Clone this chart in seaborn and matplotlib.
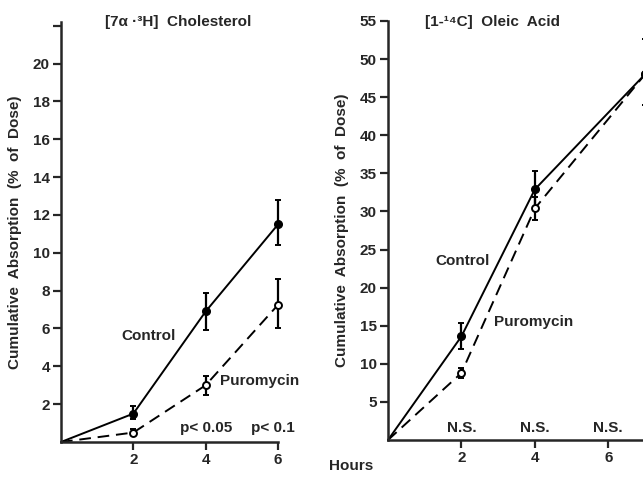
import matplotlib
matplotlib.use("Agg")
import matplotlib.pyplot as plt
import seaborn as sns
import numpy as np
import pandas as pd

# ---- data ----
hours_chol = [0, 2, 4, 6]
chol_control = [0, 1.5, 6.9, 11.5]
chol_control_lo = [0, 1.2, 5.9, 10.4]
chol_control_hi = [0, 1.9, 7.9, 12.8]
chol_puro = [0, 0.5, 3.0, 7.25]
chol_puro_lo = [0, 0.35, 2.5, 6.0]
chol_puro_hi = [0, 0.7, 3.5, 8.6]

hours_oleic = [0, 2, 4, 7]
oleic_control = [0, 13.6, 32.9, 48.0]
oleic_control_lo = [0, 12.0, 30.5, 44.0]
oleic_control_hi = [0, 15.3, 35.3, 52.7]
oleic_puro = [0, 8.8, 30.4, 48.0]
oleic_puro_lo = [0, 8.1, 28.9, 44.0]
oleic_puro_hi = [0, 9.5, 31.9, 52.7]

chol_yticks = [2, 4, 6, 8, 10, 12, 14, 16, 18, 20, 22]
chol_yticklabels = ["2", "4", "6", "8", "10", "12", "14", "16", "18", "20", ""]
oleic_yticks = [5, 10, 15, 20, 25, 30, 35, 40, 45, 50, 55]
xticks = [2, 4, 6]

sns.set_theme(style="ticks")
plt.rcParams["font.family"] = ["Liberation Sans", "DejaVu Sans"]
plt.rcParams["font.weight"] = "bold"

W, H = 643, 497
fig = plt.figure(figsize=(W / 100, H / 100), dpi=100)

ax1 = fig.add_axes([61 / W, (H - 442) / H, 217 / W, 420 / H])
ax2 = fig.add_axes([388 / W, (H - 440) / H, 257 / W, 419 / H])

fs = 11


def panel(ax, hours, ctrl, clo, chi, puro, plo, phi):
    df = pd.DataFrame({
        "Hours": hours * 2,
        "value": ctrl + puro,
        "group": ["Control"] * len(hours) + ["Puromycin"] * len(hours),
    })
    sns.lineplot(data=df, x="Hours", y="value", style="group",
                 dashes={"Control": (None, None), "Puromycin": (6, 3.5)},
                 color="black", linewidth=1.4, ax=ax, legend=False,
                 clip_on=False)
    h = np.array(hours[1:])
    c = np.array(ctrl[1:]); p = np.array(puro[1:])
    ax.errorbar(h, c, yerr=[c - np.array(clo[1:]), np.array(chi[1:]) - c],
                fmt="none", ecolor="black", elinewidth=1.6, capsize=2.5,
                capthick=1.4, clip_on=False)
    ax.errorbar(h, p, yerr=[p - np.array(plo[1:]), np.array(phi[1:]) - p],
                fmt="none", ecolor="black", elinewidth=1.6, capsize=2.5,
                capthick=1.4, clip_on=False)
    ax.plot(h, p, "o", mfc="white", mec="black", mew=1.4, ms=5, clip_on=False, zorder=5)
    ax.plot(h, c, "o", mfc="black", mec="black", ms=5.5, clip_on=False, zorder=6)
    sns.despine(ax=ax)
    for s in ("left", "bottom"):
        ax.spines[s].set_linewidth(1.8)
    ax.tick_params(direction="out", length=6, width=1.6, labelsize=fs, pad=2)
    ax.set_xticks(xticks)
    ax.set_xticklabels([str(t) for t in xticks], fontweight="bold")
    ax.set_xlabel("")
    ax.set_ylabel("Cumulative  Absorption  (%  of  Dose)", fontsize=fs,
                  fontweight="bold", labelpad=8)


panel(ax1, hours_chol, chol_control, chol_control_lo, chol_control_hi,
      chol_puro, chol_puro_lo, chol_puro_hi)
ax1.set_xlim(0, 6)
ax1.set_ylim(0, 22.2)
ax1.set_yticks(chol_yticks)
ax1.set_yticklabels(chol_yticklabels, fontweight="bold")

panel(ax2, hours_oleic, oleic_control, oleic_control_lo, oleic_control_hi,
      oleic_puro, oleic_puro_lo, oleic_puro_hi)
ax2.set_xlim(0, 7)
ax2.set_ylim(0, 55)
ax2.set_yticks(oleic_yticks)
ax2.set_yticklabels([str(t) for t in oleic_yticks], fontweight="bold")

# titles
fig.text(105 / W, 1 - 22 / H, "[7α ·³H]  Cholesterol", fontsize=fs,
         fontweight="bold", va="center", ha="left")
fig.text(425 / W, 1 - 22 / H, "[1-¹⁴C]  Oleic  Acid", fontsize=fs,
         fontweight="bold", va="center", ha="left")

# left annotations
ax1.text(1.68, 5.6, "Control", fontsize=fs, fontweight="bold", va="center")
ax1.text(4.4, 3.2, "Puromycin", fontsize=fs, fontweight="bold", va="center")
ax1.text(3.3, 0.75, "p< 0.05", fontsize=fs, fontweight="bold", va="center")
ax1.text(5.25, 0.75, "p< 0.1", fontsize=fs, fontweight="bold", va="center")

# right annotations
ax2.text(1.3, 23.5, "Control", fontsize=fs, fontweight="bold", va="center")
ax2.text(2.9, 15.5, "Puromycin", fontsize=fs, fontweight="bold", va="center")
for xx in [2, 4, 6]:
    ax2.text(xx, 1.6, "N.S.", fontsize=fs, fontweight="bold", va="center", ha="center")

fig.text(351 / W, 1 - 466 / H, "Hours", fontsize=fs, fontweight="bold",
         ha="center", va="center")

fig.savefig("out.png", dpi=100)
